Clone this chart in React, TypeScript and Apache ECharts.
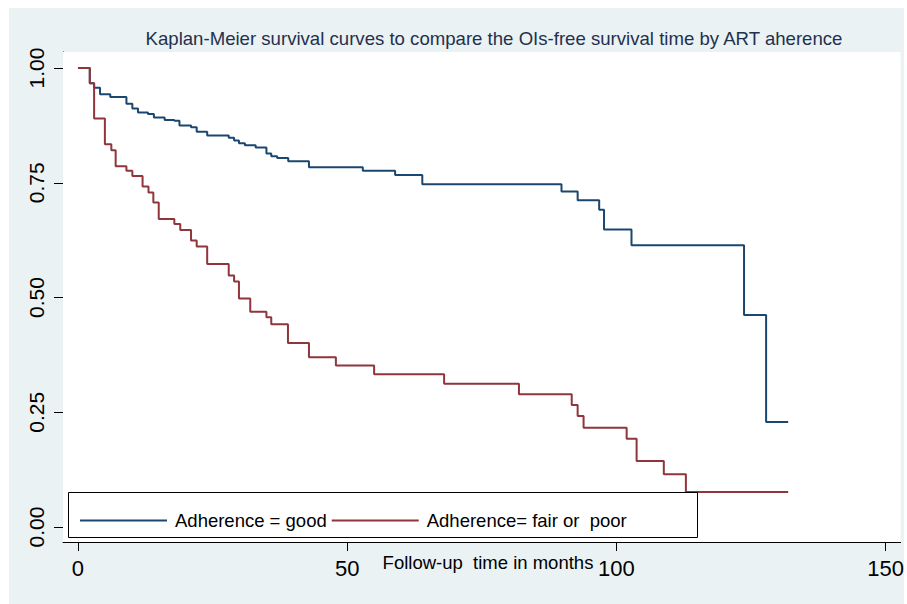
import React, { useEffect, useRef } from "react";
import * as echarts from "echarts";

const goodTime = [0, 2.2, 3.0, 4.1, 6.0, 9.0, 10.1, 11.15, 13.0, 14.1, 16.1, 17.9, 18.85, 21.0, 22.05, 24.0, 28.0, 29.0, 29.9, 31.0, 33.0, 35.0, 35.9, 37.0, 39.05, 42.9, 52.9, 58.9, 63.95, 89.8, 92.8, 96.8, 97.7, 102.8, 123.7, 127.8, 131.9];
const goodSurv = [1.0, 0.967, 0.957, 0.943, 0.937, 0.922, 0.912, 0.903, 0.9, 0.892, 0.887, 0.885, 0.875, 0.871, 0.861, 0.853, 0.848, 0.842, 0.836, 0.832, 0.827, 0.814, 0.808, 0.804, 0.797, 0.784, 0.776, 0.767, 0.747, 0.731, 0.712, 0.691, 0.648, 0.614, 0.462, 0.229, 0.229];

const poorTime = [0, 2.2, 3.0, 5.0, 6.2, 7.0, 9.0, 10.1, 12.0, 13.1, 14.0, 15.0, 17.9, 19.0, 21.0, 22.05, 24.0, 28.0, 29.0, 29.9, 32.0, 35.0, 35.9, 39.0, 42.9, 47.9, 55.0, 68.0, 81.9, 91.7, 92.8, 93.9, 101.9, 103.75, 108.8, 112.9, 131.9];
const poorSurv = [1.0, 0.967, 0.89, 0.834, 0.821, 0.786, 0.776, 0.765, 0.742, 0.729, 0.707, 0.671, 0.66, 0.647, 0.624, 0.611, 0.573, 0.548, 0.535, 0.498, 0.469, 0.457, 0.442, 0.401, 0.37, 0.352, 0.333, 0.312, 0.289, 0.266, 0.242, 0.216, 0.192, 0.144, 0.115, 0.076, 0.076];

const xTicks = [0, 50, 100, 150];
const yTicks = [0, 0.25, 0.5, 0.75, 1.0];
const seriesNames = ["Adherence = good", "Adherence= fair or  poor"];

const titleText = "Kaplan-Meier survival curves to compare the OIs-free survival time by ART aherence";
const xTitle = "Follow-up  time in months";
const noteText = "Log rank test (P-value <0.001)";

const FONT = "'Liberation Sans', Arial, Helvetica, sans-serif";

export default function App() {
  const ref = useRef<HTMLDivElement>(null);
  useEffect(() => {
    if (!ref.current) return;
    const chart = echarts.init(ref.current, undefined, { renderer: "svg" });
    const good = goodTime.map((t, i) => [t, goodSurv[i]]);
    const poor = poorTime.map((t, i) => [t, poorSurv[i]]);
    chart.setOption({
      animation: false,
      backgroundColor: "#ffffff",
      textStyle: { fontFamily: FONT },
      grid: {
        left: 63,
        right: 4,
        top: 52,
        bottom: 62,
        show: true,
        backgroundColor: "#ffffff",
        borderWidth: 0,
        z: 1,
      },
      xAxis: {
        type: "value",
        min: -2.778,
        max: 152.78,
        axisLine: { show: true, onZero: false, lineStyle: { color: "#000", width: 1 } },
        axisTick: { show: true, length: 9, customValues: xTicks, lineStyle: { color: "#000" } },
        axisLabel: { customValues: xTicks, color: "#000", fontSize: 22, margin: 15, fontFamily: FONT },
        splitLine: { show: false },
      },
      yAxis: {
        type: "value",
        min: -0.0327,
        max: 1.0349,
        axisLine: { show: true, onZero: false, lineStyle: { color: "#000", width: 1 } },
        axisTick: { show: true, length: 9, customValues: yTicks, lineStyle: { color: "#000" } },
        axisLabel: {
          customValues: yTicks,
          color: "#000",
          fontSize: 21,
          rotate: 90,
          margin: 16,
          fontFamily: FONT,
          formatter: (v: number) => v.toFixed(2),
        },
        splitLine: { show: true, lineStyle: { color: "#e8f0f2", width: 2 } },
      },
      legend: {
        show: true,
        left: 75,
        top: 506,
        orient: "horizontal",
        icon: "rect",
        itemWidth: 87,
        itemHeight: 2,
        itemGap: 5,
        z: 10,
        textStyle: { color: "#000", fontSize: 18.5, fontFamily: FONT, padding: [0, 0, 0, 3] },
        data: seriesNames,
      },
      graphic: [
        {
          type: "rect",
          z: -10,
          silent: true,
          shape: { x: 9, y: 8, width: 895, height: 600 },
          style: { fill: "#eaf2f3" },
        },
        {
          type: "text",
          x: 494,
          y: 38,
          style: { text: titleText, fill: "#24304f", fontSize: 18.6, fontFamily: FONT, align: "center", verticalAlign: "middle" },
        },
        {
          type: "text",
          x: 432,
          y: 255,
          style: { text: noteText, fill: "#ff0000", fontSize: 16, fontFamily: FONT, align: "center", verticalAlign: "middle" },
        },
        {
          type: "text",
          x: 488,
          y: 562,
          z: 20,
          style: { text: xTitle, fill: "#000", fontSize: 18.5, fontFamily: FONT, align: "center", verticalAlign: "middle" },
        },
        {
          type: "rect",
          z: 5,
          shape: { x: 68.5, y: 492.5, width: 629, height: 45 },
          style: { fill: "#ffffff", stroke: "#000", lineWidth: 1 },
        },
      ],
      series: [
        {
          name: seriesNames[0],
          type: "line",
          step: "end",
          data: good,
          showSymbol: false,
          symbol: "none",
          z: 3,
          lineStyle: { color: "#1a476f", width: 2 },
          itemStyle: { color: "#1a476f" },
        },
        {
          name: seriesNames[1],
          type: "line",
          step: "end",
          data: poor,
          showSymbol: false,
          symbol: "none",
          z: 3,
          lineStyle: { color: "#90353b", width: 2 },
          itemStyle: { color: "#90353b" },
        },
      ],
    });
    return () => chart.dispose();
  }, []);
  return <div ref={ref} style={{ position: "fixed", left: 0, top: 0, width: 907, height: 604 }} />;
}
